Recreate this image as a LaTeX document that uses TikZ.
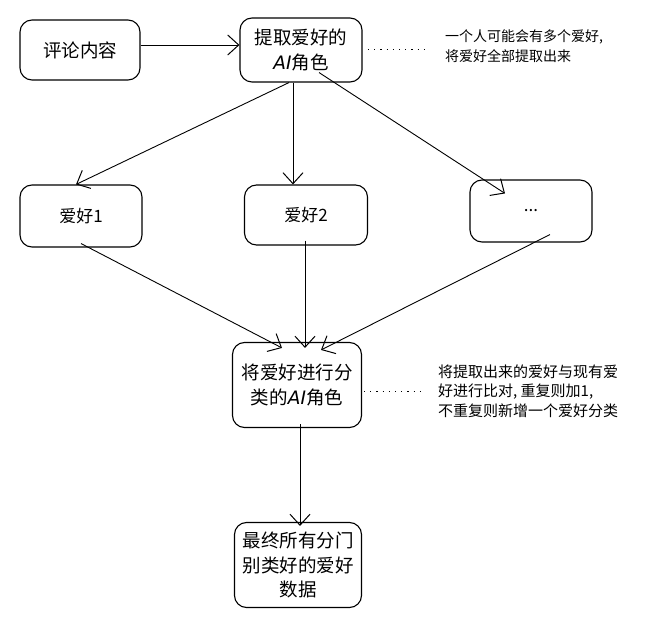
\documentclass[tikz,border=0pt]{standalone}
\usepackage{fontspec}
\setmainfont{Noto Sans CJK SC}
\newfontfamily\aifont{DejaVu Sans}
\newcommand{\AIword}{{\aifont\itshape AI}}
\usetikzlibrary{arrows.meta}
\begin{document}
\begin{tikzpicture}[x=1pt,y=-1pt,
  box/.style={draw,line width=1.1pt,rounded corners=12pt,inner sep=0pt,align=center,font=\fontsize{18.5}{25}\selectfont},
  note/.style={align=left,font=\fontsize{14}{20}\selectfont,inner sep=0pt},
  arr/.style={-{Straight Barb[length=11pt,width=20pt,line width=1pt]},line width=0.9pt},
  dots/.style={line width=1pt,dash pattern=on 1.2pt off 5pt}]
\useasboundingbox (0,0) rectangle (646,636);
\node[box,minimum width=120pt,minimum height=60pt] (src) at (80,50) {评论内容};
\node[box,minimum width=122pt,minimum height=64pt] (ext) at (301,50) {提取爱好的\\\AIword 角色};
\node[note,anchor=west] (n1) at (445,46) {一个人可能会有多个爱好,\\将爱好全部提取出来};
\node[box,minimum width=122pt,minimum height=62pt,font=\fontsize{17}{22}\selectfont] (h1) at (81,216) {爱好1};
\node[box,minimum width=123pt,minimum height=60pt,font=\fontsize{17}{22}\selectfont] (h2) at (306,215) {爱好2};
\node[box,minimum width=122pt,minimum height=62pt,font=\fontsize{17}{22}\selectfont] (h3) at (531,211) {...};
\node[box,minimum width=129pt,minimum height=85pt] (cls) at (297,385) {将爱好进行分\\类的\AIword 角色};
\node[note,anchor=west,font=\fontsize{15}{19.5}\selectfont] (n2) at (438,391) {将提取出来的爱好与现有爱\\好进行比对, 重复则加1,\\不重复则新增一个爱好分类};
\node[box,minimum width=127pt,minimum height=85pt,font=\fontsize{18.5}{24.5}\selectfont] (fin) at (298,565) {最终所有分门\\别类好的爱好\\数据};
\coordinate (d1a) at (368,50);
\coordinate (d1b) at (425,50);
\coordinate (d2a) at (364,392);
\coordinate (d2b) at (420,392);
\draw[dots] (d1a) -- (d1b);
\draw[dots] (d2a) -- (d2b);
\draw[arr] (src.east |- 0,45) -- (ext.west |- 0,45);
\draw[arr] ([xshift=-12pt]ext.south) -- ([xshift=-5pt]h1.north);
\draw[arr] ([xshift=-8pt]ext.south) -- ([xshift=-13pt]h2.north);
\draw[arr] ([xshift=18pt,yshift=10pt]ext.south) -- ([xshift=-26pt,yshift=-14pt]h3.north);
\draw[arr] ([yshift=4pt]h1.south) -- ([xshift=-15pt,yshift=-6pt]cls.north);
\draw[arr] ([xshift=-1pt,yshift=5pt]h2.south) -- ([xshift=8pt,yshift=-6pt]cls.north);
\draw[arr] ([xshift=19pt,yshift=8pt]h3.south) -- ([xshift=24pt,yshift=-8pt]cls.north);
\draw[arr] ([xshift=3pt,yshift=4pt]cls.south) -- ([xshift=2pt,yshift=-4pt]fin.north);
\end{tikzpicture}
\end{document}
